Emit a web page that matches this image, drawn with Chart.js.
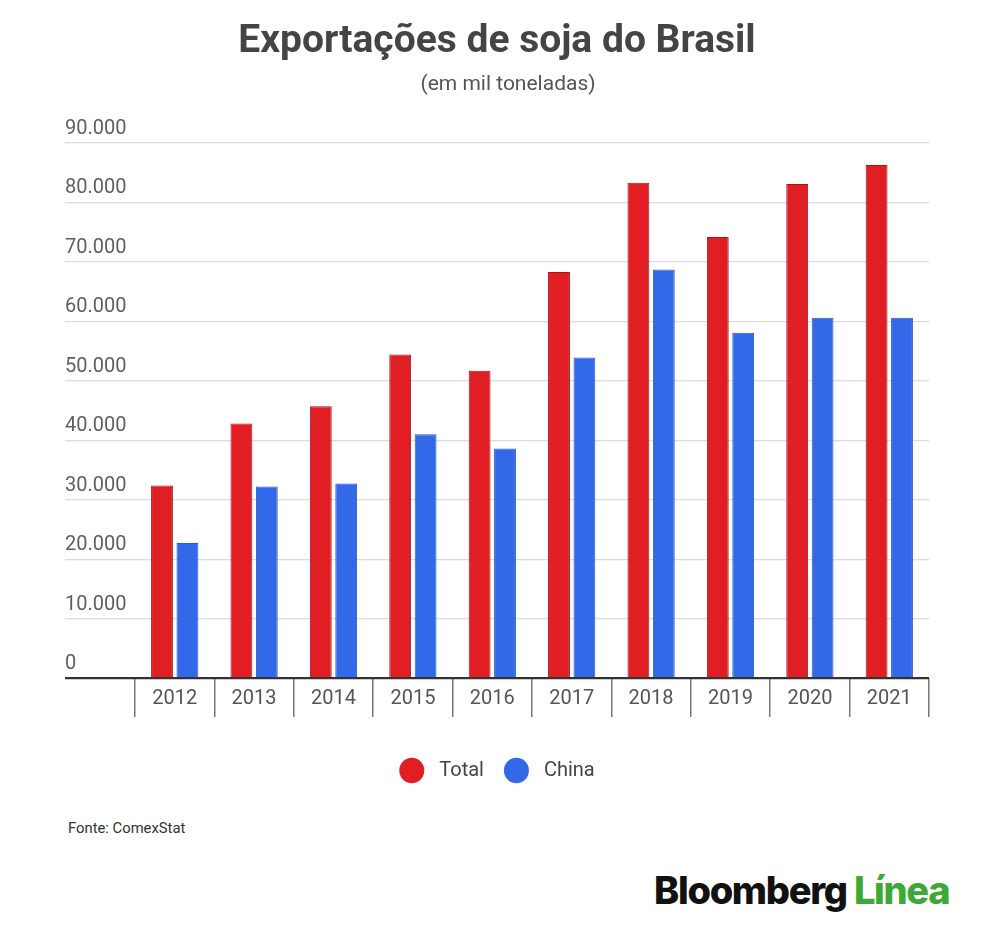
<!DOCTYPE html>
<html>
<head>
<meta charset="utf-8">
<script src="https://cdn.jsdelivr.net/npm/chart.js@4.4.1/dist/chart.umd.min.js"></script>
<style>
  html, body { margin: 0; padding: 0; background: #fff; width: 1000px; height: 941px; overflow: hidden; font-family: Roboto, sans-serif; }
  #wrap { position: absolute; left: 0; top: 0; width: 1000px; height: 800px; }
  #sub { position: absolute; top: 71px; left: 0; width: 1016px; text-align: center; font-size: 21px; color: #555; font-family: Roboto, sans-serif; }
  #fonte { position: absolute; left: 68px; top: 819px; font-size: 14.8px; color: #333; font-family: Roboto, sans-serif; }
  #logo { position: absolute; left: 654px; top: 867px; font-size: 38px; font-weight: 800; font-family: Inter, Roboto, sans-serif; letter-spacing: -1.3px; color: #111; white-space: nowrap; }
  #logo span { color: #3da935; }
</style>
</head>
<body>
<div id="wrap"><canvas id="c" width="1000" height="800"></canvas></div>
<div id="sub">(em mil toneladas)</div>
<div id="fonte">Fonte: ComexStat</div>
<div id="logo">Bloomberg <span>Línea</span></div>
<script>
const categories = ['2012', '2013', '2014', '2015', '2016', '2017', '2018', '2019', '2020', '2021'];
const totalValues = [32400, 42800, 45700, 54400, 51700, 68300, 83300, 74200, 83100, 86300];
const chinaValues = [22700, 32200, 32700, 41000, 38600, 53900, 68700, 58100, 60600, 60600];
const seriesNames = ['Total', 'China'];
const seriesColors = ['#e01e24', '#3269e8'];
const seriesBorders = ['#a8161b', '#2a59c6'];
const yMin = 0;
const yMax = 90000;
const yStep = 10000;
const titleText = 'Exportações de soja do Brasil';

function fmt(v) {
  return String(v).replace(/\B(?=(\d{3})+(?!\d))/g, '.');
}

new Chart(document.getElementById('c'), {
  type: 'bar',
  data: {
    labels: categories,
    datasets: [
      { label: seriesNames[0], data: totalValues, backgroundColor: seriesColors[0], borderColor: seriesBorders[0], borderWidth: 1, categoryPercentage: 0.64, barPercentage: 0.86 },
      { label: seriesNames[1], data: chinaValues, backgroundColor: seriesColors[1], borderColor: seriesBorders[1], borderWidth: 1, categoryPercentage: 0.64, barPercentage: 0.86 }
    ]
  },
  options: {
    responsive: false,
    animation: false,
    devicePixelRatio: 1,
    layout: { padding: { left: 65, right: 71, top: 0, bottom: 9.5 } },
    plugins: {
      title: {
        display: true,
        text: titleText,
        color: '#444',
        font: { family: 'Roboto', size: 39, weight: 'bold' },
        padding: { top: 18.6, bottom: 77.6 }
      },
      legend: {
        position: 'bottom',
        labels: {
          usePointStyle: true,
          pointStyle: 'circle',
          pointStyleWidth: 25,
          boxHeight: 18,
          padding: 20,
          color: '#444',
          font: { family: 'Roboto', size: 20 },
          generateLabels: (chart) => Chart.defaults.plugins.legend.labels.generateLabels(chart).map(l => ({ ...l, text: ' ' + l.text, lineWidth: 0 }))
        }
      },
      tooltip: { enabled: false }
    },
    scales: {
      x: {
        grid: {
          display: true,
          drawOnChartArea: false,
          drawTicks: true,
          tickLength: 39,
          color: '#777',
          lineWidth: 1.5,
          offset: true
        },
        border: { display: false },
        ticks: {
          color: '#555',
          font: { family: 'Roboto', size: 20 },
          padding: -30,
          maxRotation: 0
        },
        afterFit: (s) => { s.height = 62.5; }
      },
      y: {
        min: yMin,
        max: yMax,
        border: { display: false },
        grid: {
          drawTicks: true,
          tickLength: 70,
          color: (ctx) => (ctx.tick && ctx.tick.value === 0) ? '#333' : '#dcdcdc',
          lineWidth: (ctx) => (ctx.tick && ctx.tick.value === 0) ? 2.2 : 1.2,
          tickColor: (ctx) => (ctx.tick && ctx.tick.value === 0) ? '#333' : '#dcdcdc',
          tickWidth: (ctx) => (ctx.tick && ctx.tick.value === 0) ? 2.2 : 1.2
        },
        ticks: {
          stepSize: yStep,
          crossAlign: 'far',
          labelOffset: -14,
          padding: 0,
          color: '#5f5f5f',
          font: { family: 'Roboto', size: 20 },
          callback: (v) => fmt(v)
        },
        afterFit: (s) => { s.width = 70; }
      }
    }
  }
});
</script>
</body>
</html>
